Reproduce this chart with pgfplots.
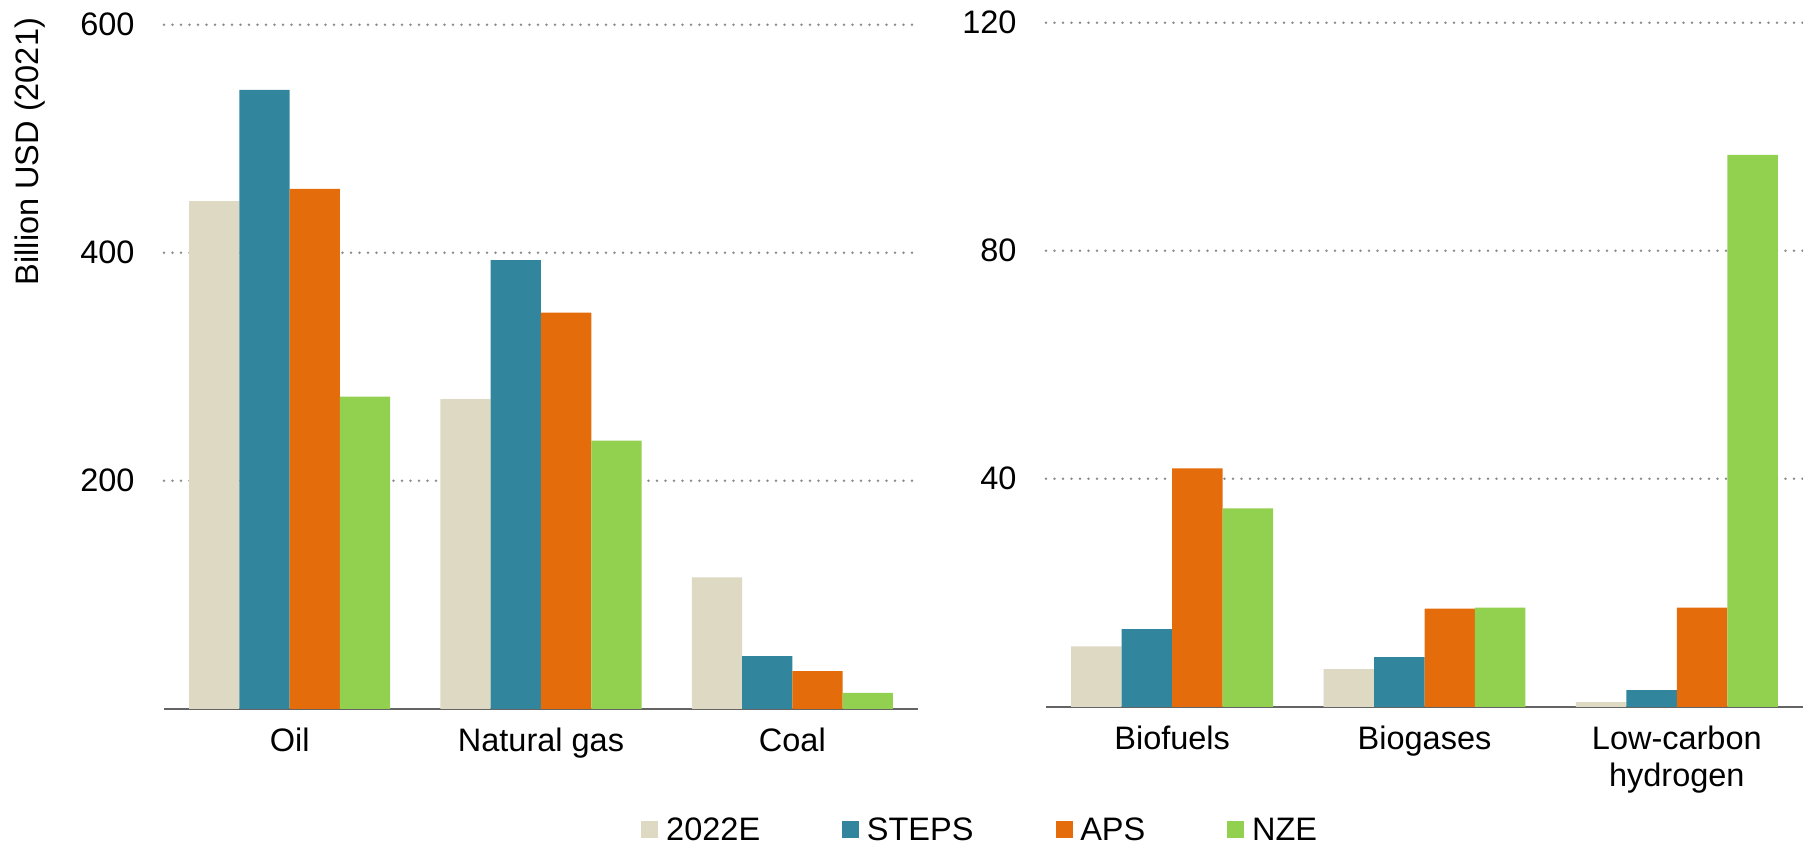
\documentclass[border=0pt]{standalone}
\usepackage{fontspec}
\setmainfont{Liberation Sans}
\usepackage{pgfplots}
\pgfplotsset{compat=1.18}

\definecolor{c22}{RGB}{221,217,195}
\definecolor{csteps}{RGB}{49,133,156}
\definecolor{caps}{RGB}{228,108,10}
\definecolor{cnze}{RGB}{146,208,80}
\definecolor{gridgray}{RGB}{140,140,140}
\definecolor{axgray}{RGB}{100,100,100}

\newcommand{\chartfont}{\fontsize{13}{14.7}\selectfont}

\pgfplotsset{
  sqlegend/.style={legend image code/.code={\fill[##1] (0pt,-3.4pt) rectangle (6.8pt,3.4pt);}},
  bars/.style={ybar, bar width=0.2, draw=none, sqlegend},
  panel/.style={
    scale only axis,
    height=273.6pt,
    xmin=-0.5, xmax=2.5, ymin=0,
    enlargelimits=false,
    axis x line*=bottom, axis y line*=left,
    y axis line style={draw=none},
    x axis line style={axgray, line width=0.9pt},
    xtick={0,1,2},
    major tick length=0pt,
    ymajorgrids,
    grid style={gridgray, line width=1.05pt, line cap=round, dash pattern=on 0pt off 3.4pt},
    tick label style={font=\chartfont},
    yticklabel style={anchor=east, inner sep=0pt, xshift=-11.6pt},
    xticklabel style={anchor=north, inner sep=0pt, yshift=-7.5pt, align=center},
    /pgf/number format/assume math mode=true,
  },
}

\begin{document}
\begin{tikzpicture}
\useasboundingbox (0,0) rectangle (721.2pt,338.4pt);

% fossil fuels
\begin{axis}[panel,
  at={(65.6pt,54.9pt)}, anchor=south west,
  width=301.6pt,
  ymax=600, ytick={200,400,600},
  xticklabels={Oil,Natural gas,Coal},
  ylabel={Billion USD (2021)},
  ylabel style={at={(axis description cs:-0.1777,0.8145)}, anchor=center, inner sep=0pt, font=\chartfont},
  legend columns=4,
  legend style={at={(axis description cs:0.6326,-0.1759)}, anchor=west,
    draw=none, fill=none, inner sep=0pt, font=\chartfont,
    nodes={inner sep=0pt, text depth=0pt},
    /tikz/every odd column/.append style={column sep=3.1pt},
    /tikz/every even column/.append style={column sep=32.8pt}},
]
\addplot[bars, bar shift=-0.3, fill=c22] coordinates {(0,445.4) (1,271.7) (2,115.3)};
\addplot[bars, bar shift=-0.1, fill=csteps] coordinates {(0,542.8) (1,393.6) (2,46.2)};
\addplot[bars, bar shift=0.1, fill=caps] coordinates {(0,456.0) (1,347.4) (2,33.0)};
\addplot[bars, bar shift=0.3, fill=cnze] coordinates {(0,273.7) (1,235.3) (2,14.0)};
\legend{2022E,STEPS,APS,NZE}
\end{axis}

% low-emissions fuels
\begin{axis}[panel,
  at={(418.4pt,55.7pt)}, anchor=south west,
  width=302.8pt,
  ymax=120, ytick={40,80,120},
  xticklabels={Biofuels,Biogases,{Low-carbon\\hydrogen}},
]
\addplot[bars, bar shift=-0.3, fill=c22] coordinates {(0,10.6) (1,6.6) (2,0.8)};
\addplot[bars, bar shift=-0.1, fill=csteps] coordinates {(0,13.6) (1,8.7) (2,2.9)};
\addplot[bars, bar shift=0.1, fill=caps] coordinates {(0,41.8) (1,17.2) (2,17.4)};
\addplot[bars, bar shift=0.3, fill=cnze] coordinates {(0,34.8) (1,17.4) (2,96.8)};
\end{axis}
\end{tikzpicture}
\end{document}
